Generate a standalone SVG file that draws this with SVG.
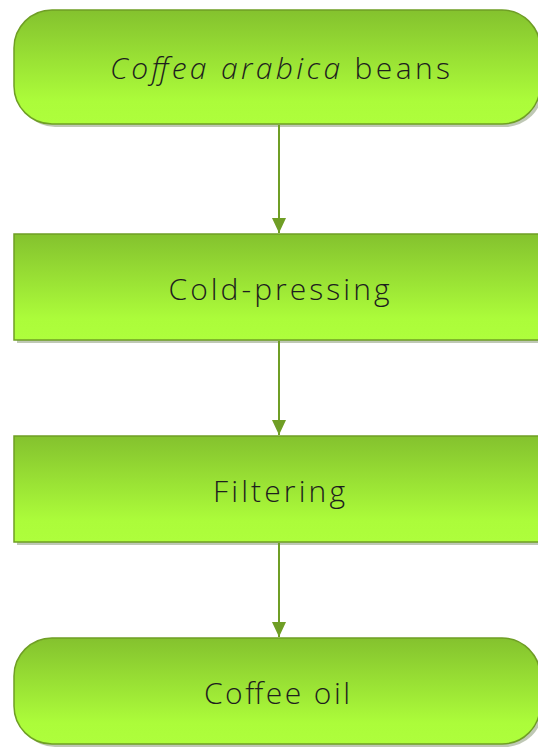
<svg xmlns="http://www.w3.org/2000/svg" width="538" height="747" viewBox="0 0 538 747">
<style>
.box{fill:url(#g);stroke:#6f9e25;stroke-width:1.5}
.sh{fill:#8a9a78;opacity:0.55}
.t{font-family:"Open Sans","DejaVu Sans",sans-serif;font-size:30px;font-weight:300;fill:#1e1e1e;text-anchor:middle}
.c{stroke:#6f9e25;stroke-width:2;fill:none}
</style>
<defs>
<linearGradient id="g" x1="0" y1="0" x2="0" y2="1">
<stop offset="0" stop-color="#84c22e"/>
<stop offset="0.8" stop-color="#acfc3a"/>
<stop offset="1" stop-color="#aefe3c"/>
</linearGradient>
<marker id="a" markerWidth="16" markerHeight="14" refX="15" refY="7" orient="auto" markerUnits="userSpaceOnUse">
<path d="M0,0 L15,7 L0,14 Z" fill="#6f9e25"/>
</marker>
</defs>
<g id="n1">
<rect class="sh" x="17" y="13" width="526" height="114" rx="38"/>
<rect class="box" x="14" y="10" width="526" height="114" rx="38"/>
<text class="t" x="280" y="79" textLength="340" lengthAdjust="spacing"><tspan font-style="italic">Coffea arabica</tspan> beans</text>
</g>
<g id="n2">
<rect class="sh" x="17" y="237" width="526" height="106"/>
<rect class="box" x="14" y="234" width="526" height="106"/>
<text class="t" x="279" y="300" textLength="221" lengthAdjust="spacing">Cold-pressing</text>
</g>
<g id="n3">
<rect class="sh" x="17" y="439" width="526" height="106"/>
<rect class="box" x="14" y="436" width="526" height="106"/>
<text class="t" x="279" y="502" textLength="132" lengthAdjust="spacing">Filtering</text>
</g>
<g id="n4">
<rect class="sh" x="17" y="641" width="526" height="106" rx="38"/>
<rect class="box" x="14" y="638" width="526" height="106" rx="38"/>
<text class="t" x="277" y="704" textLength="146" lengthAdjust="spacing">Coffee oil</text>
</g>
<g id="connectors">
<line class="c" x1="279" y1="125" x2="279" y2="233" marker-end="url(#a)"/>
<line class="c" x1="279" y1="341" x2="279" y2="435" marker-end="url(#a)"/>
<line class="c" x1="279" y1="543" x2="279" y2="637" marker-end="url(#a)"/>
</g>
</svg>
